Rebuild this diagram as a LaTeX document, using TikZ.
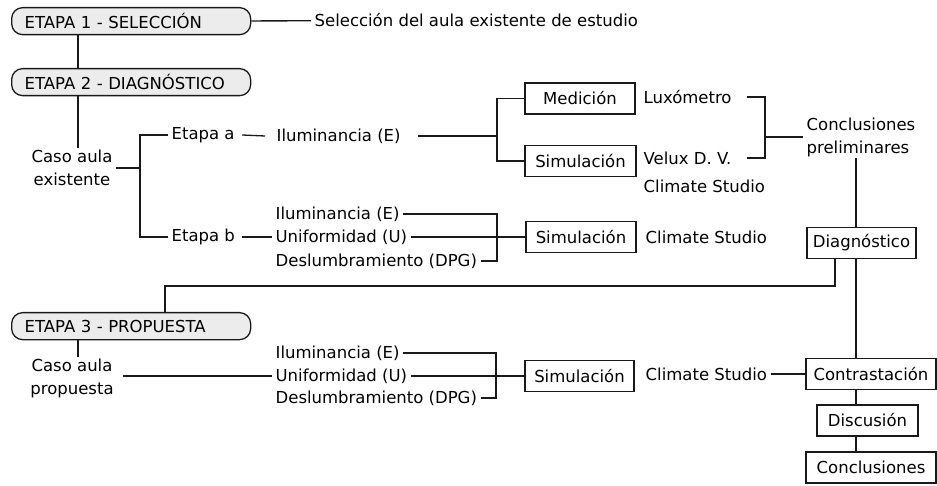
\documentclass[tikz,border=0pt]{standalone}
\usepackage{fontspec}
\setmainfont{DejaVu Sans}
\usepackage{tikz}

\tikzset{
  etapa/.style={draw, rounded corners=11pt, fill=gray!15, anchor=north west,
    minimum height=27pt, text width=213pt, inner xsep=13pt, align=left},
  caja/.style={draw, fill=white, minimum height=31pt, inner sep=0pt},
  txt/.style={inner xsep=3pt, inner ysep=1pt, anchor=west},
}

\begin{document}
\begin{tikzpicture}[x=1pt,y=-1pt,line width=1.3pt,draw=black!90,
    font=\fontsize{16.5}{23}\selectfont]
    \useasboundingbox (0,0) rectangle (937,486);
    % etapas
    \node[etapa] (e1) at (11,7) {ETAPA 1 - SELECCIÓN};
    \node[etapa] (e2) at (11,68) {ETAPA 2 - DIAGNÓSTICO};
    \node[etapa] (e3) at (11,312) {ETAPA 3 - PROPUESTA};
    \node[txt] (sel) at (311,20.5) {Selección del aula existente de estudio};
    \draw (e1) -- (sel);
    \coordinate (t1) at ([xshift=67pt]e1.south west);
    \draw (t1) -- (t1 |- e2.north);
    % caso aula existente
    \node[txt, anchor=center, align=center] (ce) at (72,168) {Caso aula\\existente};
    \coordinate (t2) at ([xshift=67pt]e2.south west);
    \draw (t2) -- (t2 |- ce.north);
    \coordinate (b1) at (140,169);
    \node[txt] (eta) at (168,135) {Etapa a};
    \node[txt] (etb) at (168,237) {Etapa b};
    \draw (ce.east) -- (b1 |- ce.east);
    \draw (eta.west) -| (b1) |- (etb.west);
    % etapa a
    \node[txt] (ilA) at (273,136) {Iluminancia (E)};
    \draw ([xshift=4pt]eta.east) -- ([xshift=-8pt]ilA.west);
    \coordinate (b2) at (497,136);
    \node[caja, minimum width=110pt] (med) at (580,98.5) {Medición};
    \node[caja, minimum width=111pt] (si1) at (580.5,161) {Simulación};
    \draw ([xshift=14pt]ilA.east) -- (b2);
    \draw (med.west) -| (b2) |- (si1.west);
    \node[txt] (lux) at (640,97) {Luxómetro};
    \node[txt] (vel) at (640,158) {Velux D. V.};
    \node[txt] (cs1) at (640,186) {Climate Studio};
    \coordinate (b3) at (765,137);
    \draw ([xshift=12pt]lux.east) -| (b3) |- ([xshift=12pt]vel.east);
    \node[txt, align=left] (cp) at (803,137) {Conclusiones\\preliminares};
    \draw (b3) -- (cp.west);
    \coordinate (col) at (856,0);
    \node[caja, minimum width=109pt] (dg) at (861.5,243) {Diagnóstico};
    \draw (cp.south -| col) -- (dg.north -| col);
    % etapa b
    \node[txt] (ilB) at (272,214) {Iluminancia (E)};
    \node[txt] (unB) at (272,237) {Uniformidad (U)};
    \node[txt] (dpB) at (272,261) {Deslumbramiento (DPG)};
    \draw ([xshift=3pt]etb.east) -- (unB.west);
    \coordinate (b4) at (497,237);
    \draw (ilB.east) -| (b4) |- (dpB.east);
    \node[caja, minimum width=110pt] (si2) at (581,237) {Simulación};
    \draw (unB.east) -- (si2.west);
    \node[txt] (cs2) at (642,237) {Climate Studio};
    % retorno a etapa 3
    \coordinate (r1) at (835,286);
    \coordinate (r2) at (165,286);
    \draw (dg.south -| r1) -- (r1) -- (r2) -- (r2 |- e3.north);
    % caso aula propuesta
    \node[txt, anchor=center, align=center] (cp2) at (72,378) {Caso aula\\propuesta};
    \coordinate (t3) at ([xshift=67pt]e3.south west);
    \draw (t3) -- (t3 |- cp2.north);
    \node[txt] (ilC) at (272,353) {Iluminancia (E)};
    \node[txt] (unC) at (272,376) {Uniformidad (U)};
    \node[txt] (dpC) at (272,398) {Deslumbramiento (DPG)};
    \draw ([xshift=6pt]cp2.east |- unC.west) -- (unC.west);
    \coordinate (b5) at (496,376);
    \draw (ilC.east) -| (b5) |- (dpC.east);
    \node[caja, minimum width=109pt] (si3) at (579.5,376) {Simulación};
    \draw (unC.east) -- (si3.west);
    \node[txt] (cs3) at (642,374) {Climate Studio};
    \node[caja, minimum width=130pt] (ct) at (871,374) {Contrastación};
    \draw (cs3.east) -- (ct.west);
    \draw (dg.south -| col) -- (ct.north -| col);
    \node[caja, minimum width=101pt] (ds) at (867.5,420.5) {Discusión};
    \node[caja, minimum width=130pt] (cc) at (871,467.5) {Conclusiones};
    \draw (ct.south -| col) -- (ds.north -| col);
    \draw (ds.south -| col) -- (cc.north -| col);
\end{tikzpicture}
\end{document}
